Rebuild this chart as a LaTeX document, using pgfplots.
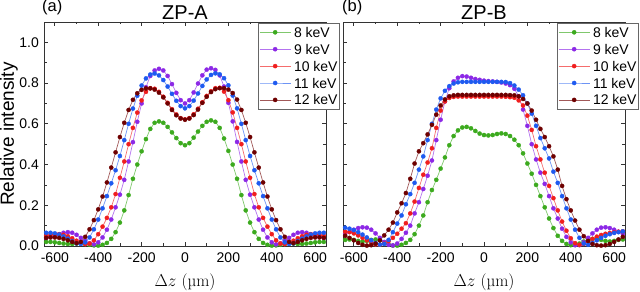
\documentclass[border=0pt]{standalone}
\usepackage{fontspec}
\setmainfont{Liberation Sans}
\newfontfamily\lmfont{Latin Modern Roman}
\usepackage{pgfplots}
\usepackage{pgfplotstable}
\pgfplotsset{compat=1.18}

\definecolor{cg}{RGB}{60,170,30}
\definecolor{cv}{RGB}{140,40,230}
\definecolor{cr}{RGB}{240,30,30}
\definecolor{cb}{RGB}{30,90,240}
\definecolor{cd}{RGB}{110,0,0}

\pgfplotstableread{
z g v r b d
-640 0.020 0.040 0.050 0.065 0.040
-620 0.020 0.045 0.055 0.065 0.042
-600 0.018 0.050 0.058 0.062 0.042
-580 0.015 0.058 0.058 0.056 0.040
-560 0.012 0.065 0.055 0.047 0.035
-540 0.010 0.068 0.048 0.036 0.028
-520 0.010 0.065 0.038 0.024 0.020
-500 0.012 0.055 0.026 0.013 0.014
-480 0.012 0.040 0.015 0.010 0.020
-460 0.010 0.025 0.009 0.018 0.045
-440 0.006 0.013 0.012 0.042 0.082
-420 0.003 0.008 0.028 0.082 0.127
-400 0.002 0.018 0.058 0.130 0.180
-380 0.006 0.042 0.095 0.185 0.243
-360 0.015 0.080 0.138 0.245 0.312
-340 0.035 0.130 0.190 0.308 0.385
-320 0.068 0.190 0.255 0.372 0.460
-300 0.115 0.252 0.335 0.442 0.535
-280 0.175 0.325 0.415 0.520 0.605
-260 0.250 0.415 0.500 0.600 0.668
-240 0.330 0.510 0.580 0.675 0.718
-220 0.400 0.610 0.655 0.738 0.750
-200 0.465 0.700 0.715 0.788 0.767
-180 0.525 0.780 0.757 0.823 0.774
-160 0.575 0.835 0.775 0.842 0.774
-140 0.605 0.862 0.772 0.847 0.768
-120 0.612 0.870 0.757 0.838 0.753
-100 0.605 0.862 0.733 0.815 0.730
-80 0.585 0.835 0.703 0.783 0.700
-60 0.558 0.795 0.672 0.747 0.668
-40 0.530 0.752 0.646 0.713 0.642
-20 0.505 0.716 0.628 0.687 0.626
0 0.495 0.700 0.622 0.676 0.620
20 0.505 0.716 0.628 0.687 0.626
40 0.532 0.754 0.647 0.714 0.643
60 0.562 0.798 0.674 0.749 0.670
80 0.590 0.838 0.706 0.786 0.703
100 0.610 0.866 0.737 0.818 0.733
120 0.617 0.873 0.760 0.840 0.756
140 0.610 0.865 0.775 0.848 0.770
160 0.580 0.838 0.777 0.843 0.775
180 0.528 0.783 0.758 0.824 0.775
200 0.467 0.703 0.716 0.789 0.768
220 0.400 0.612 0.656 0.739 0.751
240 0.330 0.511 0.580 0.676 0.719
260 0.250 0.415 0.500 0.600 0.668
280 0.175 0.325 0.415 0.520 0.605
300 0.115 0.252 0.335 0.442 0.535
320 0.068 0.190 0.255 0.372 0.460
340 0.035 0.130 0.190 0.308 0.385
360 0.015 0.080 0.138 0.245 0.312
380 0.006 0.042 0.095 0.185 0.243
400 0.002 0.018 0.058 0.130 0.180
420 0.003 0.008 0.028 0.082 0.127
440 0.006 0.013 0.012 0.042 0.082
460 0.010 0.025 0.009 0.018 0.045
480 0.012 0.040 0.015 0.010 0.020
500 0.012 0.055 0.026 0.013 0.014
520 0.010 0.065 0.038 0.024 0.020
540 0.010 0.068 0.048 0.036 0.028
560 0.012 0.065 0.055 0.047 0.035
580 0.015 0.058 0.058 0.056 0.040
600 0.018 0.050 0.058 0.062 0.042
620 0.020 0.045 0.055 0.065 0.042
640 0.020 0.040 0.050 0.065 0.040
}\tabA

\pgfplotstableread{
z g v r b d
-640 0.030 0.060 0.070 0.090 0.050
-620 0.032 0.070 0.068 0.085 0.040
-600 0.030 0.080 0.062 0.078 0.028
-580 0.025 0.088 0.052 0.068 0.015
-560 0.022 0.092 0.040 0.056 0.006
-540 0.025 0.090 0.028 0.042 0.002
-520 0.030 0.080 0.016 0.028 0.004
-500 0.032 0.062 0.008 0.015 0.012
-480 0.028 0.040 0.006 0.007 0.028
-460 0.018 0.020 0.012 0.010 0.052
-440 0.008 0.006 0.024 0.030 0.080
-420 0.002 0.003 0.040 0.068 0.115
-400 0.002 0.012 0.060 0.110 0.165
-380 0.006 0.035 0.085 0.150 0.210
-360 0.015 0.065 0.112 0.205 0.260
-340 0.030 0.100 0.160 0.255 0.330
-320 0.058 0.160 0.218 0.310 0.405
-300 0.100 0.215 0.285 0.375 0.465
-280 0.150 0.280 0.350 0.440 0.505
-260 0.215 0.345 0.410 0.520 0.548
-240 0.275 0.420 0.480 0.600 0.595
-220 0.325 0.520 0.580 0.670 0.645
-200 0.380 0.620 0.665 0.725 0.690
-180 0.435 0.710 0.710 0.762 0.720
-160 0.495 0.775 0.727 0.785 0.735
-140 0.540 0.808 0.732 0.798 0.740
-120 0.568 0.826 0.734 0.804 0.742
-100 0.582 0.834 0.734 0.806 0.742
-80 0.585 0.832 0.734 0.806 0.742
-60 0.578 0.826 0.734 0.806 0.742
-40 0.565 0.820 0.734 0.806 0.742
-20 0.552 0.816 0.734 0.806 0.742
0 0.545 0.812 0.734 0.806 0.742
20 0.543 0.810 0.734 0.806 0.742
40 0.545 0.808 0.734 0.806 0.742
60 0.550 0.806 0.734 0.806 0.742
80 0.553 0.803 0.734 0.806 0.742
100 0.550 0.798 0.733 0.805 0.742
120 0.540 0.790 0.731 0.800 0.741
140 0.522 0.772 0.728 0.788 0.740
160 0.495 0.735 0.715 0.768 0.735
180 0.455 0.670 0.690 0.740 0.722
200 0.405 0.590 0.640 0.700 0.700
220 0.355 0.500 0.570 0.650 0.665
240 0.300 0.425 0.490 0.590 0.620
260 0.245 0.360 0.425 0.530 0.575
280 0.190 0.305 0.360 0.480 0.535
300 0.135 0.245 0.295 0.430 0.490
320 0.088 0.185 0.235 0.365 0.440
340 0.050 0.135 0.175 0.310 0.375
360 0.025 0.085 0.120 0.245 0.295
380 0.010 0.045 0.075 0.185 0.230
400 0.004 0.018 0.038 0.130 0.175
420 0.005 0.004 0.014 0.080 0.125
440 0.012 0.004 0.006 0.040 0.080
460 0.022 0.018 0.010 0.012 0.048
480 0.030 0.040 0.022 0.006 0.025
500 0.035 0.062 0.035 0.015 0.010
520 0.035 0.080 0.046 0.028 0.004
540 0.030 0.090 0.054 0.040 0.002
560 0.025 0.092 0.060 0.050 0.004
580 0.022 0.088 0.064 0.058 0.010
600 0.025 0.080 0.067 0.064 0.020
620 0.030 0.070 0.070 0.068 0.032
640 0.032 0.060 0.072 0.072 0.045
}\tabB

\pgfplotsset{
  zp/.style={
    width=282bp, height=224bp, scale only axis,
    xmin=-650, xmax=650, ymin=0, ymax=1.1,
    xtick={-600,-400,-200,0,200,400,600},
    minor xtick={-500,-300,-100,100,300,500},
    ytick={0,0.2,0.4,0.6,0.8,1.0},
    minor ytick={0.1,0.3,0.5,0.7,0.9},
    tick align=inside,
    major tick length=4bp, minor tick length=2.5bp,
    axis line style={black!80, line width=0.8bp},
    every tick/.style={black!80, line width=0.8bp},
    /pgf/number format/assume math mode=true,
    ticklabel style={font=\fontsize{14bp}{16bp}\selectfont},
    xticklabel style={anchor=north, inner sep=0pt, yshift=-7bp},
    yticklabel style={anchor=east, inner sep=0pt, xshift=-5bp},
    yticklabel={\pgfmathprintnumber[fixed,fixed zerofill,precision=1]{\tick}},
    xlabel={\lmfont$\Delta z$ (\textmu m)},
    xlabel style={font=\fontsize{17bp}{19bp}\selectfont, at={(axis description cs:0.5,-0.1607)}, anchor=center},
    legend style={at={(0.7589,0.9955)}, anchor=north west, draw=black!60, line width=0.6bp,
      inner xsep=1bp, inner ysep=3bp, font=\fontsize{14bp}{16bp}\selectfont,
      cells={anchor=west}, row sep=4.9bp, column sep=2bp,
      nodes={inner sep=1bp, text height=10bp, text depth=0bp}},
    legend image code/.code={\draw[mark repeat=2,mark phase=2] plot coordinates {(0bp,0bp) (15.5bp,0bp) (31bp,0bp)};},
  },
  ser/.style={color=#1!65!white, line width=0.7bp, mark=*, mark size=2.1bp, mark options={fill=#1, draw=#1, line width=0.3bp}},
}

\begin{document}
\begin{tikzpicture}
\useasboundingbox (0,0) rectangle (640bp,292bp);
\begin{axis}[zp, at={(44bp,46bp)}, anchor=south west,
  ylabel={Relative intensity},
  ylabel style={font=\fontsize{19bp}{21bp}\selectfont, at={(axis description cs:-0.1241,0.5)}, anchor=center}]
\addplot[ser=cg] table[x=z,y=g]{\tabA};
\addplot[ser=cv] table[x=z,y=v]{\tabA};
\addplot[ser=cr] table[x=z,y=r]{\tabA};
\addplot[ser=cb] table[x=z,y=b]{\tabA};
\addplot[ser=cd] table[x=z,y=d]{\tabA};
\legend{8 keV,9 keV,10 keV,11 keV,12 keV}
\end{axis}
\begin{axis}[zp, at={(343bp,46bp)}, anchor=south west, yticklabels={}]
\addplot[ser=cg] table[x=z,y=g]{\tabB};
\addplot[ser=cv] table[x=z,y=v]{\tabB};
\addplot[ser=cr] table[x=z,y=r]{\tabB};
\addplot[ser=cb] table[x=z,y=b]{\tabB};
\addplot[ser=cd] table[x=z,y=d]{\tabB};
\legend{8 keV,9 keV,10 keV,11 keV,12 keV}
\end{axis}
\node[font=\fontsize{20bp}{22bp}\selectfont, anchor=base] at (185bp,272bp) {ZP-A};
\node[font=\fontsize{16.5bp}{18bp}\selectfont, anchor=base west, inner sep=0pt] at (42bp,280bp) {(a)};
\node[font=\fontsize{20bp}{22bp}\selectfont, anchor=base] at (484bp,272bp) {ZP-B};
\node[font=\fontsize{16.5bp}{18bp}\selectfont, anchor=base west, inner sep=0pt] at (342bp,280bp) {(b)};
\end{tikzpicture}
\end{document}
